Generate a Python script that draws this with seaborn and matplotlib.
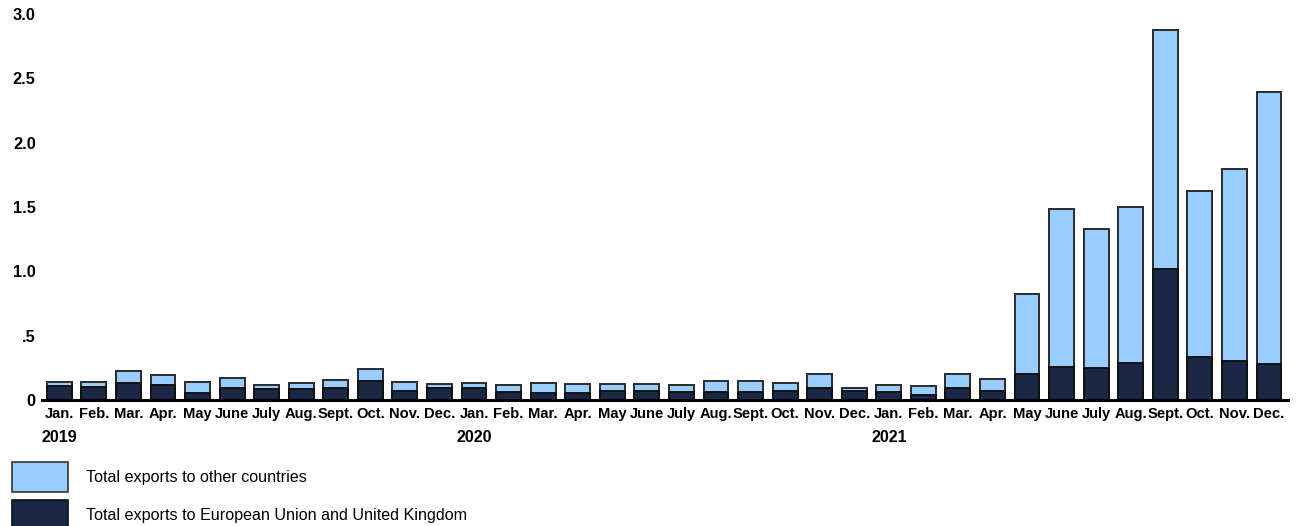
import pandas as pd
import matplotlib
matplotlib.use("Agg")
import matplotlib.pyplot as plt
import matplotlib.transforms as mtransforms
from matplotlib.patches import Patch
import seaborn as sns

## Values (monthly exports)
months = ['Jan.', 'Feb.', 'Mar.', 'Apr.', 'May', 'June',
          'July', 'Aug.', 'Sept.', 'Oct.', 'Nov.', 'Dec.']
years = ['2019', '2020', '2021']

eu_uk = [0.107, 0.099, 0.132, 0.117, 0.054, 0.093, 0.085, 0.085, 0.093, 0.145, 0.070, 0.093,
         0.093, 0.062, 0.054, 0.054, 0.073, 0.067, 0.062, 0.062, 0.062, 0.073, 0.093, 0.070,
         0.060, 0.036, 0.096, 0.068, 0.200, 0.254, 0.246, 0.288, 1.021, 0.334, 0.301, 0.280]
total = [0.138, 0.142, 0.223, 0.197, 0.138, 0.169, 0.114, 0.135, 0.158, 0.241, 0.142, 0.122,
         0.130, 0.119, 0.135, 0.122, 0.122, 0.122, 0.114, 0.148, 0.148, 0.135, 0.200, 0.096,
         0.117, 0.109, 0.204, 0.166, 0.827, 1.487, 1.332, 1.501, 2.872, 1.623, 1.799, 2.395]

yticks = [0, 0.5, 1.0, 1.5, 2.0, 2.5, 3.0]
ytick_labels = ['0', '.5', '1.0', '1.5', '2.0', '2.5', '3.0']

light_blue = '#99CCFF'
navy = '#1A2745'
label_other = 'Total exports to other countries'
label_eu = 'Total exports to European Union and United Kingdom'

## Build a tidy frame, one row per month
df = pd.DataFrame({
    'pos': list(range(len(total))),
    'month': months * len(years),
    'eu_uk': eu_uk,
    'total': total,
})
df['other'] = df['total'] - df['eu_uk']

sns.set_theme(style='white')
plt.rcParams['font.family'] = ['Liberation Sans', 'DejaVu Sans']
plt.rcParams['text.color'] = 'black'
plt.rcParams['xtick.color'] = 'black'
plt.rcParams['ytick.color'] = 'black'

fig = plt.figure(figsize=(12.96, 5.26), dpi=100)
ax = fig.add_axes([0.0324, 0.2395, 0.9614, 0.7339])

## Stacked bars: full total in light blue, EU/UK part drawn over it in navy
sns.barplot(data=df, x='pos', y='total', color=light_blue, saturation=1,
            width=0.72, edgecolor='#2a2a2a', linewidth=1.4, ax=ax)
sns.barplot(data=df, x='pos', y='eu_uk', color=navy, saturation=1,
            width=0.72, edgecolor='#111111', linewidth=1.4, ax=ax)

ax.set_xlim(-0.5, len(total) - 0.45)
ax.set_ylim(0, 3.0)
ax.set_yticks(yticks)
ax.set_yticklabels(ytick_labels, fontsize=11.8, fontweight='bold')
ax.set_xticks(df['pos'])
ax.set_xticklabels(df['month'], fontsize=10.6, fontweight='bold')
ax.tick_params(axis='x', length=0, pad=5)
ax.tick_params(axis='y', length=0, pad=4.5)
ax.set_xlabel('')
ax.set_ylabel('')

for side in ['top', 'right', 'left']:
    ax.spines[side].set_visible(False)
ax.spines['bottom'].set_color('black')
ax.spines['bottom'].set_linewidth(2.2)
ax.spines['bottom'].set_zorder(5)

## Year labels under each January
trans = mtransforms.blended_transform_factory(ax.transData, ax.transAxes)
for i, yr in enumerate(years):
    ax.text(i * 12 - 0.5, -0.097, yr, transform=trans, ha='left', va='center',
            fontsize=11.6, fontweight='bold')

## Legend at the bottom left
handles = [Patch(facecolor=light_blue, edgecolor='#333333', linewidth=1.2, label=label_other),
           Patch(facecolor=navy, edgecolor='#111111', linewidth=1.2, label=label_eu)]
fig.legend(handles=handles, loc='upper left', bbox_to_anchor=(0.009, 0.122),
           frameon=False, fontsize=11.6, handlelength=3.5, handleheight=2.49,
           labelspacing=0.5, handletextpad=1.1, borderpad=0, borderaxespad=0)

fig.savefig('out.png', dpi=100)
